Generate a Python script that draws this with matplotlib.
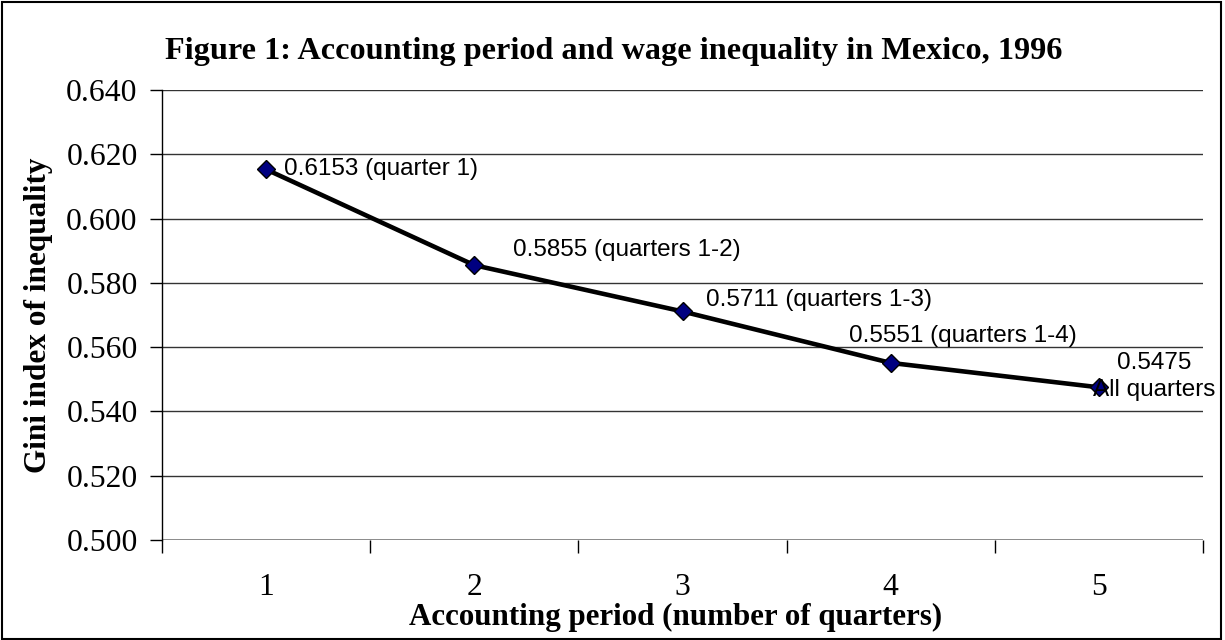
import matplotlib
matplotlib.use("Agg")
import matplotlib.pyplot as plt
from matplotlib.patches import Rectangle

periods = [1, 2, 3, 4, 5]
gini = [0.6153, 0.5855, 0.5711, 0.5551, 0.5475]
point_labels = ["0.6153 (quarter 1)", "0.5855 (quarters 1-2)", "0.5711 (quarters 1-3)",
                "0.5551 (quarters 1-4)", "0.5475\nAll quarters"]
yticks = [0.500, 0.520, 0.540, 0.560, 0.580, 0.600, 0.620, 0.640]

W, H = 1225, 640
fig = plt.figure(figsize=(W / 100, H / 100), dpi=100)
ax = fig.add_axes([162 / W, 1 - 540 / H, (1203 - 162) / W, (540 - 90) / H])

serif = "Liberation Serif"
sans = "Liberation Sans"

ax.set_xlim(0.5, 5.5)
ax.set_ylim(0.500, 0.640)
for y in yticks[1:]:
    ax.axhline(y, color="#333333", lw=1.0, zorder=1)
ax.axhline(0.500, color="#808080", lw=2.0, zorder=1)

ax.plot(periods, gini, color="black", lw=3.3, marker="D", markersize=9,
        markerfacecolor="#000080", markeredgecolor="black", markeredgewidth=1.0, zorder=3)

offsets = [(18, 0), (39, 15), (24, 11), (72, 27), (55, 11)]
aligns = [("left", "center"), ("left", "center"), ("left", "center"),
          ("center", "center"), ("center", "center")]
for x, y, lab, off, al in zip(periods, gini, point_labels, offsets, aligns):
    ax.annotate(lab, (x, y), xytext=off, textcoords="offset pixels",
                ha=al[0], va=al[1], fontsize=17.5, family=sans, zorder=4,
                linespacing=1.3)

ax.spines["top"].set_visible(False)
ax.spines["right"].set_visible(False)
ax.spines["bottom"].set_visible(False)
ax.spines["left"].set_linewidth(1.0)

ax.set_yticks(yticks)
ax.set_yticklabels([f"{v:.3f}" for v in yticks], family=serif, fontsize=22.8)
ax.tick_params(axis="y", direction="out", length=9, width=1.0, pad=8.5)

ax.set_xticks([0.5, 1.5, 2.5, 3.5, 4.5, 5.5])
ax.set_xticklabels([])
ax.set_xticks(periods, minor=True)
ax.set_xticklabels([str(p) for p in periods], minor=True, family=serif, fontsize=22.8)
ax.tick_params(axis="x", which="major", direction="out", length=9, width=1.0)
ax.tick_params(axis="x", which="minor", length=0, pad=24)

fig.text(614 / W, 1 - 52 / H, "Figure 1: Accounting period and wage inequality in Mexico, 1996",
         ha="center", va="center", family=serif, fontsize=23.2, fontweight="bold")
fig.text(676 / W, 1 - 625 / H, "Accounting period (number of quarters)",
         ha="center", va="baseline", family=serif, fontsize=22.3, fontweight="bold")
fig.text(39 / W, 1 - 315 / H, "Gini index of inequality", rotation=90,
         ha="center", va="center", family=serif, fontsize=22.5, fontweight="bold")

fig.patches.append(Rectangle((1.5 / W, 1.5 / H), (1221 - 1.5) / W, (638 - 1.5) / H,
                             transform=fig.transFigure, fill=False, ec="black", lw=1.5))

fig.savefig("out.png", dpi=100)
